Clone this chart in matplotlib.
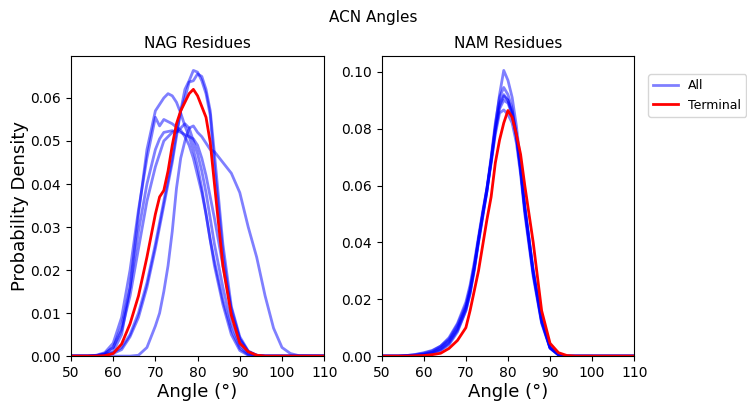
import matplotlib
matplotlib.use('Agg')
import matplotlib.pyplot as plt

# --- Data ---
angle = [50, 54, 56, 58, 60, 62, 64, 66, 68, 70, 71, 72, 73, 74, 75, 76, 77, 78, 79, 80,
         81, 82, 83, 84, 86, 88, 90, 92, 94, 96, 98, 100, 102, 104, 110]

# NAG residues: all chains
nag_all = [
    [0, 0, 0, 0, 0, 0, 0, 0.0002, 0.002, 0.007, 0.010, 0.015, 0.021, 0.029, 0.039, 0.046, 0.050, 0.053, 0.0535, 0.052,
     0.051, 0.0495, 0.048, 0.0475, 0.045, 0.0425, 0.038, 0.030, 0.023, 0.014, 0.0065, 0.002, 0.0006, 0.0001, 0],
    [0, 0, 0.0001, 0.0004, 0.001, 0.005, 0.016, 0.033, 0.048, 0.057, 0.0585, 0.060, 0.061, 0.0605, 0.059, 0.0565, 0.0535, 0.051, 0.048, 0.044,
     0.039, 0.033, 0.027, 0.021, 0.012, 0.005, 0.0013, 0.0002, 0, 0, 0, 0, 0, 0, 0],
    [0, 0, 0.0002, 0.0008, 0.003, 0.009, 0.020, 0.034, 0.046, 0.0555, 0.0535, 0.055, 0.0545, 0.054, 0.0532, 0.0525, 0.051, 0.049, 0.046, 0.042,
     0.038, 0.033, 0.027, 0.022, 0.013, 0.006, 0.0018, 0.0003, 0, 0, 0, 0, 0, 0, 0],
    [0, 0, 0.0001, 0.0006, 0.002, 0.007, 0.016, 0.029, 0.040, 0.048, 0.0505, 0.052, 0.0522, 0.0524, 0.052, 0.053, 0.054, 0.053, 0.050, 0.047,
     0.043, 0.038, 0.032, 0.026, 0.016, 0.0075, 0.0025, 0.0005, 0.0001, 0, 0, 0, 0, 0, 0],
    [0, 0, 0.0001, 0.0005, 0.002, 0.006, 0.014, 0.025, 0.036, 0.044, 0.047, 0.050, 0.051, 0.052, 0.0525, 0.052, 0.0515, 0.051, 0.0505, 0.049,
     0.046, 0.042, 0.037, 0.032, 0.021, 0.011, 0.004, 0.001, 0.0002, 0, 0, 0, 0, 0, 0],
    [0, 0, 0, 0.0002, 0.0006, 0.0015, 0.0045, 0.009, 0.016, 0.025, 0.030, 0.035, 0.040, 0.045, 0.051, 0.057, 0.062, 0.064, 0.0664, 0.066,
     0.064, 0.061, 0.056, 0.044, 0.024, 0.010, 0.004, 0.001, 0.0002, 0, 0, 0, 0, 0, 0],
    [0, 0, 0, 0.0003, 0.0008, 0.002, 0.005, 0.010, 0.017, 0.026, 0.031, 0.036, 0.041, 0.046, 0.052, 0.057, 0.060, 0.0637, 0.064, 0.0656,
     0.065, 0.062, 0.057, 0.047, 0.026, 0.0115, 0.0045, 0.0012, 0.0002, 0, 0, 0, 0, 0, 0],
]
nag_terminal = [0, 0, 0, 0.0001, 0.0006, 0.0028, 0.0075, 0.014, 0.023, 0.033, 0.037, 0.0385, 0.043, 0.049, 0.054, 0.057, 0.059, 0.061, 0.062, 0.0605,
                0.058, 0.0555, 0.0497, 0.040, 0.021, 0.0095, 0.003, 0.001, 0.0002, 0, 0, 0, 0, 0, 0]

# NAM residues: all chains
nam_all = [
    [0, 0, 0.0001, 0.0002, 0.0004, 0.0008, 0.002, 0.004, 0.0085, 0.016, 0.022, 0.031, 0.041, 0.050, 0.058, 0.069, 0.081, 0.092, 0.1005, 0.097,
     0.091, 0.081, 0.068, 0.053, 0.030, 0.013, 0.003, 0.0005, 0, 0, 0, 0, 0, 0, 0],
    [0, 0, 0.0001, 0.0003, 0.0006, 0.0012, 0.0025, 0.005, 0.0095, 0.017, 0.023, 0.031, 0.041, 0.050, 0.059, 0.070, 0.082, 0.091, 0.0945, 0.092,
     0.087, 0.078, 0.066, 0.052, 0.029, 0.012, 0.0028, 0.0004, 0, 0, 0, 0, 0, 0, 0],
    [0, 0, 0.0002, 0.0005, 0.001, 0.0018, 0.0035, 0.006, 0.011, 0.018, 0.024, 0.032, 0.041, 0.050, 0.059, 0.069, 0.080, 0.089, 0.092, 0.090,
     0.085, 0.077, 0.065, 0.051, 0.029, 0.012, 0.003, 0.0005, 0, 0, 0, 0, 0, 0, 0],
    [0, 0, 0.0002, 0.0006, 0.0012, 0.002, 0.0035, 0.0065, 0.0115, 0.019, 0.025, 0.033, 0.042, 0.051, 0.059, 0.068, 0.078, 0.0855, 0.0866, 0.085,
     0.082, 0.075, 0.064, 0.050, 0.028, 0.0115, 0.0027, 0.0004, 0, 0, 0, 0, 0, 0, 0],
    [0, 0, 0.0001, 0.0003, 0.0007, 0.0014, 0.003, 0.0055, 0.010, 0.017, 0.023, 0.031, 0.040, 0.049, 0.058, 0.068, 0.079, 0.087, 0.090, 0.089,
     0.085, 0.077, 0.066, 0.052, 0.030, 0.0125, 0.003, 0.0005, 0, 0, 0, 0, 0, 0, 0],
    [0, 0, 0.0001, 0.0002, 0.0005, 0.001, 0.0022, 0.0045, 0.009, 0.016, 0.022, 0.030, 0.040, 0.049, 0.058, 0.069, 0.080, 0.088, 0.0915, 0.090,
     0.086, 0.078, 0.066, 0.052, 0.030, 0.013, 0.003, 0.0005, 0, 0, 0, 0, 0, 0, 0],
]
nam_terminal = [0, 0, 0, 0.0001, 0.0002, 0.0005, 0.001, 0.0027, 0.0055, 0.010, 0.016, 0.023, 0.030, 0.039, 0.048, 0.056, 0.068, 0.076, 0.082, 0.0864,
                0.084, 0.078, 0.071, 0.060, 0.040, 0.016, 0.0045, 0.0012, 0.0002, 0, 0, 0, 0, 0, 0]

# --- Plotting ---
fig = plt.figure(figsize=(7.47, 4.01), dpi=100)
ax1 = fig.add_axes([0.095, 0.112, 0.339, 0.748])
ax2 = fig.add_axes([0.511, 0.112, 0.338, 0.748])

for ax, all_curves, term, title in [(ax1, nag_all, nag_terminal, 'NAG Residues'),
                                    (ax2, nam_all, nam_terminal, 'NAM Residues')]:
    for i, y in enumerate(all_curves):
        ax.plot(angle, y, color='blue', alpha=0.5, lw=2, label='All' if i == 0 else None)
    ax.plot(angle, term, color='red', lw=2, label='Terminal')
    ax.set_xlim(50, 110)
    ax.set_ylim(bottom=0)
    ax.set_title(title, fontsize=11)
    ax.set_xlabel('Angle (°)', fontsize=13, labelpad=2)

ax1.set_ylabel('Probability Density', fontsize=13, labelpad=1)
ax2.legend(loc='upper left', bbox_to_anchor=(1.03, 0.96), fontsize=9)
fig.suptitle('ACN Angles', fontsize=11, y=0.975)

plt.savefig('out.png', dpi=100)
